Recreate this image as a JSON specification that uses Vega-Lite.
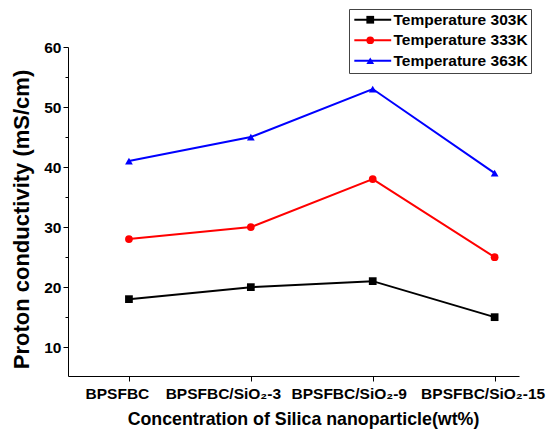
{
  "$schema": "https://vega.github.io/schema/vega-lite/v6.json",
  "width": 451,
  "height": 329,
  "autosize": {"type": "none"},
  "padding": {"left": 68, "top": 47, "right": 36, "bottom": 55},
  "background": "white",
  "config": {
    "view": {"stroke": null},
    "font": "Liberation Sans",
    "axis": {
      "grid": false,
      "domainColor": "black",
      "domainWidth": 1,
      "tickColor": "black",
      "labelColor": "black",
      "titleColor": "black",
      "labelFont": "Liberation Sans",
      "titleFont": "Liberation Sans",
      "labelFontWeight": "bold",
      "titleFontWeight": "bold"
    },
    "legend": {
      "labelFont": "Liberation Sans",
      "labelFontWeight": "bold",
      "labelColor": "black"
    }
  },
  "data": {
    "values": [
      {"series": "Temperature 303K", "idx": 1, "value": 18},
      {"series": "Temperature 303K", "idx": 2, "value": 20},
      {"series": "Temperature 303K", "idx": 3, "value": 21},
      {"series": "Temperature 303K", "idx": 4, "value": 15},
      {"series": "Temperature 333K", "idx": 1, "value": 28},
      {"series": "Temperature 333K", "idx": 2, "value": 30},
      {"series": "Temperature 333K", "idx": 3, "value": 38},
      {"series": "Temperature 333K", "idx": 4, "value": 25},
      {"series": "Temperature 363K", "idx": 1, "value": 41},
      {"series": "Temperature 363K", "idx": 2, "value": 45},
      {"series": "Temperature 363K", "idx": 3, "value": 53},
      {"series": "Temperature 363K", "idx": 4, "value": 39}
    ]
  },
  "encoding": {
    "x": {
      "field": "idx",
      "type": "quantitative",
      "scale": {"domain": [0.5, 4.2], "nice": false, "zero": false},
      "axis": {
        "values": [1, 2, 3, 4],
        "labelExpr": "datum.value == 1 ? 'BPSFBC' : datum.value == 2 ? 'BPSFBC/SiO₂-3' : datum.value == 3 ? 'BPSFBC/SiO₂-9' : 'BPSFBC/SiO₂-15'",
        "title": "Concentration of Silica nanoparticle(wt%)",
        "labelFontSize": 15.5,
        "titleFontSize": 17.8,
        "titleX": 235,
        "tickSize": 5,
        "labelPadding": 5,
        "labelOffset": {"expr": "datum.value == 1 ? -12 : datum.value == 2 ? -28 : datum.value == 3 ? -24 : -12"},
        "titlePadding": 9,
        "labelFlush": false,
        "labelOverlap": false
      }
    },
    "y": {
      "field": "value",
      "type": "quantitative",
      "scale": {"domain": [5.2, 60], "nice": false, "zero": false},
      "axis": {
        "values": [10, 20, 30, 40, 50, 60],
        "title": "Proton conductivity (mS/cm)",
        "labelFontSize": 15.5,
        "titleFontSize": 22,
        "titleY": 172,
        "tickSize": 5,
        "labelPadding": 2,
        "titlePadding": 10,
        "labelFlush": false,
        "labelOverlap": false
      }
    }
  },
  "layer": [
    {
      "mark": {"type": "line", "strokeWidth": 2},
      "encoding": {
        "color": {
          "field": "series",
          "type": "nominal",
          "scale": {
            "domain": ["Temperature 303K", "Temperature 333K", "Temperature 363K"],
            "range": ["#000000", "#ff0000", "#0000ff"]
          },
          "legend": {
            "title": null,
            "orient": "none",
            "legendX": 281,
            "legendY": -38,
            "symbolType": "M-4,0H4",
            "symbolSize": 85,
            "symbolStrokeWidth": 2,
            "symbolOffset": 13,
            "labelFontSize": 15.5,
            "strokeColor": "#444444",
            "fillColor": "white",
            "padding": 3,
            "rowPadding": 3.5,
            "labelOffset": 13
          }
        }
      }
    },
    {
      "mark": {"type": "point", "filled": true, "opacity": 1, "size": 60},
      "encoding": {
        "y": {
          "field": "value",
          "type": "quantitative",
          "axis": {
            "orient": "left",
            "values": [15, 25, 35, 45, 55],
            "labels": false,
            "domain": false,
            "title": null,
            "tickSize": 3
          }
        },
        "color": {
          "field": "series",
          "type": "nominal",
          "legend": {
            "title": null,
            "orient": "none",
            "legendX": 291.5,
            "legendY": -38,
            "symbolSize": 60,
            "labelFontSize": 15.5,
            "labelExpr": "' '",
            "padding": 3,
            "rowPadding": 3.5,
            "labelOffset": 5
          }
        },
        "shape": {
          "field": "series",
          "type": "nominal",
          "scale": {
            "domain": ["Temperature 303K", "Temperature 333K", "Temperature 363K"],
            "range": ["square", "circle", "triangle-up"]
          },
          "legend": {
            "title": null,
            "orient": "none",
            "legendX": 291.5,
            "legendY": -38,
            "symbolSize": 60,
            "labelFontSize": 15.5,
            "labelExpr": "' '",
            "padding": 3,
            "rowPadding": 3.5,
            "labelOffset": 5
          }
        }
      }
    }
  ],
  "resolve": {
    "legend": {"color": "independent", "shape": "independent"},
    "axis": {"y": "independent"}
  }
}
